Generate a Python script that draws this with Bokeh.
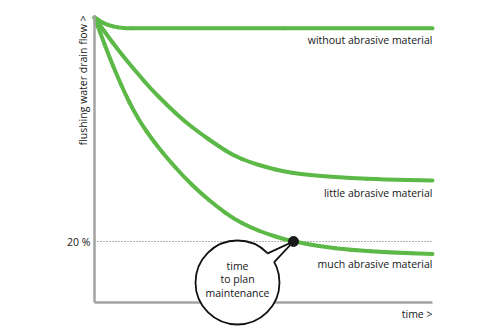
import math
from bokeh.plotting import figure
from bokeh.models import Range1d
from bokeh.core.properties import value
from bokeh.embed import file_html
from bokeh.resources import INLINE

# ---- data (time in % of the axis length, flow in %) ----
time_none = [0, 1.78, 3.25, 4.73, 6.21, 7.69, 9.47, 12.13, 100]
flow_none = [93.44, 92.13, 91.31, 90.72, 90.33, 90.07, 89.90, 89.90, 89.90]

time_little = [0, 1.78, 4.14, 6.80, 9.76, 13.02, 16.57, 21.60, 26.33, 31.36, 36.39, 41.12,
               46.15, 51.18, 55.92, 60.95, 66.86, 75.74, 85.50, 100]
flow_little = [93.44, 90.66, 87.05, 83.11, 79.02, 74.75, 70.16, 64.59, 59.67, 55.41, 51.48, 48.20,
               45.90, 44.26, 42.95, 42.13, 41.48, 40.82, 40.33, 40.0]

time_much = [0, 1.78, 4.35, 6.80, 9.17, 11.54, 14.20, 16.57, 18.93, 21.60, 26.33, 31.36, 36.39,
             41.12, 46.15, 51.18, 55.92, 58.88, 66.86, 75.74, 87.57, 100]
flow_much = [93.44, 88.20, 80.66, 74.10, 68.20, 62.95, 58.03, 54.26, 50.82, 47.21, 41.31, 35.90, 31.31,
             27.54, 24.59, 22.46, 20.82, 20.0, 18.36, 17.21, 16.39, 15.90]

series_labels = ["without abrasive material", "little abrasive material", "much abrasive material"]
threshold = 20
threshold_label = "20 %"
maintenance_time = 58.88
x_title = "time >"
y_title = "flushing water drain flow >"
balloon_lines = ["time", "to plan", "maintenance"]

GREEN = "#5cb947"
AXIS = "#a3a3a3"
INK = "#161616"
FONT = value("Open Sans")

# pixel mapping: x 0->94px, 100->432px ; y 0->302px, 20->241px
sx = (432 - 94) / 100.0
sy = (302 - 241) / 20.0
p = figure(width=500, height=333, output_backend="svg", toolbar_location=None,
           x_range=Range1d(-94 / sx, (500 - 94) / sx),
           y_range=Range1d(-(333 - 302) / sy, 302 / sy),
           min_border=0, min_border_left=0, min_border_right=0,
           min_border_top=0, min_border_bottom=0)
p.axis.visible = False
p.grid.visible = False
p.outline_line_color = None
p.background_fill_color = "white"
p.border_fill_color = "white"

# threshold dotted line
p.line([0, 100], [threshold, threshold], line_color="#666666", line_width=1, line_dash="1 2")


def smooth_curve(t, f):
    """Draw the series as a chain of quadratic Bezier pieces through midpoints."""
    n = len(t)
    mx = [(t[i] + t[i + 1]) / 2 for i in range(n - 1)]
    my = [(f[i] + f[i + 1]) / 2 for i in range(n - 1)]
    x0 = [t[0]] + mx[1:-1] + [mx[-1]]
    y0 = [f[0]] + my[1:-1] + [my[-1]]
    # build pieces: start->mid1 straight, then mid_i -> mid_{i+1} with control at point i+1
    p.line([t[0], mx[0]], [f[0], my[0]], line_color=GREEN, line_width=4, line_cap="round")
    p.quadratic(x0=mx[:-1], y0=my[:-1], x1=mx[1:], y1=my[1:], cx=t[1:-1], cy=f[1:-1],
                line_color=GREEN, line_width=4, line_cap="round")
    p.line([mx[-1], t[-1]], [my[-1], f[-1]], line_color=GREEN, line_width=4, line_cap="round")


for t, f in [(time_none, flow_none), (time_little, flow_little), (time_much, flow_much)]:
    smooth_curve(t, f)

# axes lines
y_top = (302 - 15) / sy
p.line([0, 0], [0, y_top], line_color=AXIS, line_width=2.5)
p.line([0, 100], [0, 0], line_color=AXIS, line_width=2.5)

# series labels (right aligned at end of x axis)
TS = "10.5px"
p.text([100], [flow_none[-1]], text=[series_labels[0]], text_align="right", text_baseline="middle",
       y_offset=12, text_font=FONT, text_font_size=TS, text_color=INK)
p.text([100], [flow_little[-1]], text=[series_labels[1]], text_align="right", text_baseline="middle",
       y_offset=12, text_font=FONT, text_font_size=TS, text_color=INK)
p.text([100], [flow_much[-1]], text=[series_labels[2]], text_align="right", text_baseline="middle",
       y_offset=10, text_font=FONT, text_font_size=TS, text_color=INK)

# axis titles
p.text([100], [0], text=[x_title], text_align="right", text_baseline="middle", y_offset=11,
       text_font=FONT, text_font_size=TS, text_color=INK)
p.text([0], [y_top], text=[y_title], text_align="right", text_baseline="middle", x_offset=-12,
       angle=math.pi / 2, text_font=FONT, text_font_size=TS, text_color=INK)
p.text([0], [threshold], text=[threshold_label], text_align="right", text_baseline="middle", x_offset=-4,
       text_font=FONT, text_font_size=TS, text_color=INK)

# balloon
cx = (237 - 94) / sx
cy = (302 - 282) / sy
r_px = 42
p.scatter([cx], [cy], size=2 * r_px, fill_color="white", line_color="#111111", line_width=1.8)
a1, a2 = math.radians(44), math.radians(29)
ax_, ay_ = cx + r_px * math.cos(a1) / sx, cy + r_px * math.sin(a1) / sy
bx_, by_ = cx + r_px * math.cos(a2) / sx, cy + r_px * math.sin(a2) / sy
ix_, iy_ = cx + (r_px - 8) * math.cos((a1 + a2) / 2) / sx, cy + (r_px - 8) * math.sin((a1 + a2) / 2) / sy
p.patch([ax_, maintenance_time, bx_, ix_], [ay_, threshold, by_, iy_], fill_color="white", line_color=None)
p.line([ax_, maintenance_time, bx_], [ay_, threshold, by_], line_color="#111111", line_width=1.8, line_join="miter")
p.scatter([maintenance_time], [threshold], size=10, fill_color="#1a1a1a", line_color="#1a1a1a")
for i, txt in enumerate(balloon_lines):
    p.text([cx], [cy], text=[txt], text_align="center", text_baseline="middle",
           y_offset=-17 + i * 13.5, text_font=FONT, text_font_size=TS, text_color=INK)

open("out.html", "w").write(file_html(p, INLINE))
